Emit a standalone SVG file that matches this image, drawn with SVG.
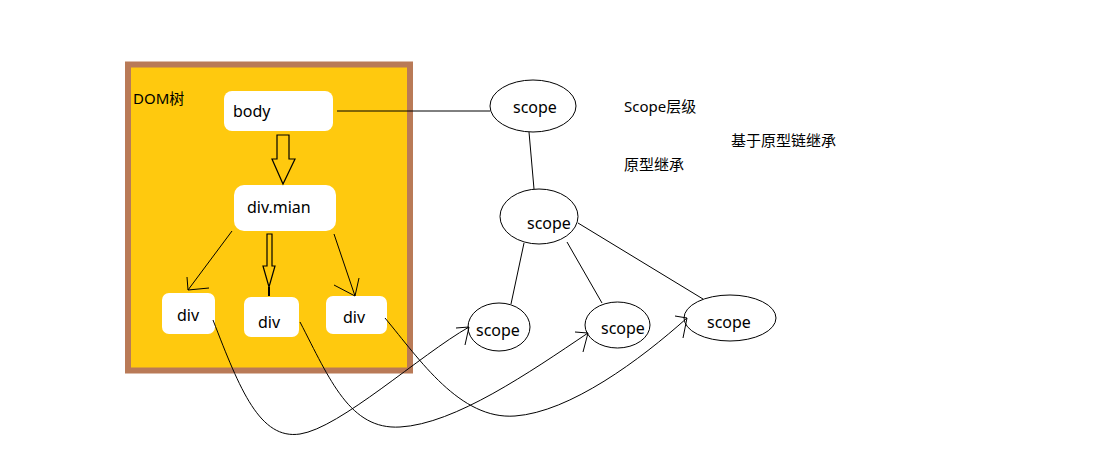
<svg xmlns="http://www.w3.org/2000/svg" width="1118" height="473" viewBox="0 0 1118 473">
<style>
text{font-family:"Noto Sans","Noto Sans CJK SC",sans-serif;fill:#000;}
.t16{font-size:16px;}
.t15{font-size:15px;}
.node{fill:#fff;stroke:none;}
.ln{fill:none;stroke:#000;stroke-width:1;}
.big{fill:#ffc90e;stroke:#000;stroke-width:1.2;}
.ell{fill:#fff;stroke:#000;stroke-width:1;}
</style>
<rect width="1118" height="473" fill="#fff"/>
<g id="dom-box">
<rect x="128" y="64.5" width="282" height="306" fill="#ffc90e" stroke="#b97a57" stroke-width="6"/>
<text class="t15" x="133" y="104">DOM树</text>
</g>
<g id="body">
<rect class="node" x="224" y="91" width="109" height="40" rx="8"/>
<text class="t16" x="233" y="117">body</text>
</g>
<g id="div-mian">
<rect class="node" x="234" y="185" width="102" height="46" rx="10"/>
<text class="t16" x="247" y="213">div.mian</text>
</g>
<g id="div1">
<rect class="node" x="162" y="293" width="53" height="41" rx="7"/>
<text class="t16" x="177" y="321">div</text>
</g>
<g id="div2">
<rect class="node" x="244" y="297" width="55" height="40" rx="7"/>
<text class="t16" x="258" y="328">div</text>
</g>
<g id="div3">
<rect class="node" x="326" y="296" width="61" height="38" rx="7"/>
<text class="t16" x="343" y="323">div</text>
</g>
<g id="scope1">
<ellipse class="ell" cx="533" cy="106" rx="43" ry="26"/>
<text class="t16" x="513" y="113">scope</text>
</g>
<g id="scope2">
<ellipse class="ell" cx="539" cy="216.5" rx="39" ry="27.5"/>
<text class="t16" x="527" y="229">scope</text>
</g>
<g id="scope3">
<ellipse class="ell" cx="499" cy="327" rx="31" ry="24"/>
<text class="t16" x="476" y="336">scope</text>
</g>
<g id="scope4">
<ellipse class="ell" cx="617.5" cy="325" rx="32.5" ry="23"/>
<text class="t16" x="601" y="334">scope</text>
</g>
<g id="scope5">
<ellipse class="ell" cx="730" cy="318" rx="46" ry="23"/>
<text class="t16" x="707" y="328">scope</text>
</g>
<g id="labels">
<text class="t15" x="624" y="112">Scope层级</text>
<text class="t15" x="731" y="146">基于原型链继承</text>
<text class="t15" x="624" y="170">原型继承</text>
</g>
<g id="connectors">
<polygon class="big" points="277,135 289,135 289,159 295,159 283,184 272,159 277,159"/>
<polygon class="big" points="267,234 272,234 272,266 275,266 269,287 263,266 267,266"/>
<line x1="269" y1="287" x2="269" y2="296" stroke="#000" stroke-width="2"/>
<path class="ln" d="M232,231 L188,290 M188,290 L187,277 M188,290 L209,288"/>
<path class="ln" d="M334,234 L355,296 M355,296 L334,285 M355,296 L359,278"/>
<line class="ln" x1="337" y1="111" x2="490" y2="111"/>
<line class="ln" x1="529" y1="132" x2="534" y2="189"/>
<line class="ln" x1="524" y1="243" x2="511" y2="304"/>
<line class="ln" x1="567" y1="242" x2="602" y2="303"/>
<line class="ln" x1="578" y1="223" x2="703" y2="299"/>
<path class="ln" d="M213,320 C240,390 260,440 300,434 C340,428 420,355 469,327 M469,327 L456,328 M469,327 L465,345"/>
<path class="ln" d="M300,322 C330,380 350,430 400,427 C455,424 530,372 588,333 M588,333 L575,332 M588,333 L583,352"/>
<path class="ln" d="M385,318 C420,360 460,420 515,416 C570,412 640,360 687,318 M687,318 L675,316 M687,318 L683,338"/>
</g>
</svg>
